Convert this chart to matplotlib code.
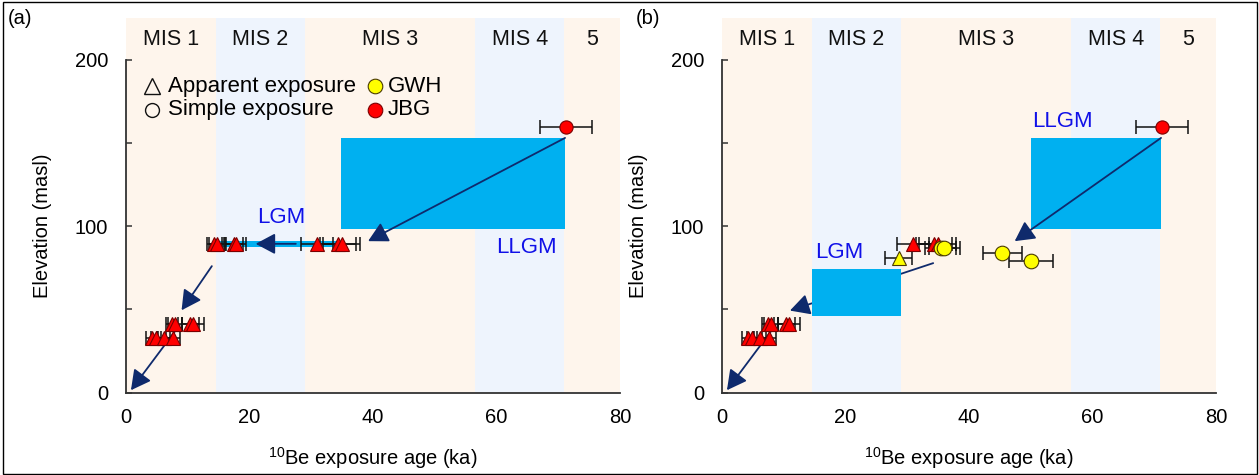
import matplotlib
matplotlib.use('Agg')
import matplotlib.pyplot as plt
from matplotlib.patches import Rectangle

plt.rcParams['font.family'] = ['Liberation Sans', 'DejaVu Sans']
plt.rcParams['mathtext.fontset'] = 'custom'
plt.rcParams['mathtext.rm'] = 'Liberation Sans'
plt.rcParams['mathtext.it'] = 'Liberation Sans:italic'
plt.rcParams['mathtext.bf'] = 'Liberation Sans:bold'

# ---------------- data ----------------
mis_labels = ['MIS 1', 'MIS 2', 'MIS 3', 'MIS 4', '5']
mis_bounds = [0, 14.5, 29, 56.5, 71, 80]

# JBG apparent exposure (red triangles), LGM group at ~89 m
jbg_lgm_age = [14.3, 14.7, 17.5, 17.8, 30.9, 34.3, 34.9]
jbg_lgm_err = [1.2, 1.2, 1.5, 1.6, 2.6, 2.9, 3.0]
jbg_lgm_elev = [89, 89, 89, 89, 89, 89, 89]

# JBG apparent exposure, low elevation groups
jbg_low_age = [4.2, 4.8, 6.2, 7.6, 7.4, 7.9, 10.4, 10.9]
jbg_low_err = [0.9, 0.8, 1.0, 1.1, 1.0, 1.1, 1.4, 1.8]
jbg_low_elev = [33, 33, 33, 33, 41, 41, 41, 41]

# JBG simple exposure (red circle)
jbg_simple_age = [71.2]
jbg_simple_err = [4.2]
jbg_simple_elev = [159.5]

# GWH apparent exposure (yellow triangle)
gwh_tri_age = [28.6]
gwh_tri_err = [2.2]
gwh_tri_elev = [81]

# GWH simple exposure (yellow circles)
gwh_circ_age = [35.4, 36.0, 45.4, 50.0]
gwh_circ_err = [2.5, 2.5, 3.2, 3.6]
gwh_circ_elev = [87, 87, 84, 79]

# Boxes (x0, x1, y0, y1)
llgm_box_a = (34.8, 71.1, 98, 153)
lgm_band_a = (14.3, 34.9, 87.5, 91.0)
llgm_box_b = (50.0, 71.1, 98, 153)
lgm_box_b = (14.5, 29.0, 46, 74)

# Arrows (start, end)
arrows_a = [((71.1, 153), (39.2, 91)),
            ((27.5, 89.4), (21.0, 89.4)),
            ((13.9, 76), (9.0, 49.5)),
            ((8.7, 40.7), (0.8, 1.5))]
arrows_b_over = [((71.1, 153), (47.4, 91)),
                 ((8.7, 40.7), (0.8, 1.5))]
arrows_b_under = [((34.2, 77.8), (11.0, 49.3))]

# ---------------- style ----------------
peach = '#FEF5EC'
lblue = '#EEF4FD'
cyan = '#00B0F0'
navy = '#0F2A6C'
spine_c = '#333333'

fig = plt.figure(figsize=(12.59, 4.75), dpi=100)
ax_a = fig.add_axes([126 / 1259, 82.3 / 475, 494 / 1259, 374.7 / 475])
ax_b = fig.add_axes([722 / 1259, 82.3 / 475, 494 / 1259, 374.7 / 475])


def base(ax):
    ax.set_xlim(0, 80)
    ax.set_ylim(0, 225)
    for i, lab in enumerate(mis_labels):
        x0, x1 = mis_bounds[i], mis_bounds[i + 1]
        ax.axvspan(x0, x1, color=peach if i % 2 == 0 else lblue, lw=0, zorder=0)
        ax.text((x0 + x1) / 2, 212, lab, ha='center', va='center', fontsize=15.5, color='#111111')
    ax.spines['top'].set_visible(False)
    ax.spines['right'].set_visible(False)
    ax.spines['left'].set_bounds(0, 200)
    for s in ('left', 'bottom'):
        ax.spines[s].set_color(spine_c)
        ax.spines[s].set_linewidth(1.3)
        ax.spines[s].set_zorder(6)
    ax.set_xticks([0, 20, 40, 60, 80])
    ax.set_yticks([0, 100, 200])
    ax.set_yticks([50, 150], minor=True)
    ax.tick_params(axis='x', length=0, pad=11, labelsize=14.5)
    ax.tick_params(axis='y', which='both', direction='in', length=4, width=1.1,
                   color=spine_c, pad=13, labelsize=14.5)
    ax.set_xlabel(r'$^{10}$Be exposure age (ka)', fontsize=14.5, labelpad=13)
    ax.set_ylabel('Elevation (masl)', fontsize=14.5)
    ax.yaxis.set_label_coords(-0.15, 100 / 225)


def box(ax, b, z):
    ax.add_patch(Rectangle((b[0], b[2]), b[1] - b[0], b[3] - b[2], facecolor=cyan,
                           edgecolor='none', zorder=z))


def arrow(ax, s, e, z):
    ax.annotate('', xy=e, xytext=s,
                arrowprops=dict(arrowstyle='-|>,head_length=0.6,head_width=0.32',
                                color=navy, lw=1.3, mutation_scale=20,
                                shrinkA=0, shrinkB=0),
                zorder=z)


def pts(ax, x, y, xe, marker, color, ms):
    ax.errorbar(x, y, xerr=xe, fmt='none', ecolor='#111111', elinewidth=1.1,
                capsize=5, capthick=1.1, zorder=4)
    ax.plot(x, y, linestyle='none', marker=marker, markersize=ms, markerfacecolor=color,
            markeredgecolor='#4a3a00' if color == '#FFFF00' else '#7a0000',
            markeredgewidth=0.8, zorder=5)


# ---------------- panel (a) ----------------
base(ax_a)
box(ax_a, llgm_box_a, 1)
box(ax_a, lgm_band_a, 1)
for s, e in arrows_a:
    arrow(ax_a, s, e, 3)
pts(ax_a, jbg_lgm_age, jbg_lgm_elev, jbg_lgm_err, '^', '#FF0000', 10.5)
pts(ax_a, jbg_low_age, jbg_low_elev, jbg_low_err, '^', '#FF0000', 10.5)
pts(ax_a, jbg_simple_age, jbg_simple_elev, jbg_simple_err, 'o', '#FF0000', 9.5)
ax_a.text(25.1, 105, 'LGM', color='#1010E8', fontsize=16, ha='center', va='center')
ax_a.text(69.8, 87, 'LLGM', color='#1010E8', fontsize=16, ha='right', va='center')

# legend
ax_a.plot([4.2], [184], marker='^', markersize=11, markerfacecolor='none',
          markeredgecolor='#111111', markeredgewidth=1.0, linestyle='none', zorder=5)
ax_a.plot([4.2], [170], marker='o', markersize=10, markerfacecolor='none',
          markeredgecolor='#111111', markeredgewidth=1.0, linestyle='none', zorder=5)
ax_a.plot([40.3], [184], marker='o', markersize=10.5, markerfacecolor='#FFFF00',
          markeredgecolor='#4a3a00', markeredgewidth=0.8, linestyle='none', zorder=5)
ax_a.plot([40.3], [170], marker='o', markersize=10.5, markerfacecolor='#FF0000',
          markeredgecolor='#7a0000', markeredgewidth=0.8, linestyle='none', zorder=5)
ax_a.text(6.8, 184, 'Apparent exposure', fontsize=16, va='center', ha='left')
ax_a.text(6.8, 170, 'Simple exposure', fontsize=16, va='center', ha='left')
ax_a.text(42.4, 184, 'GWH', fontsize=16, va='center', ha='left')
ax_a.text(42.4, 170, 'JBG', fontsize=16, va='center', ha='left')

# ---------------- panel (b) ----------------
base(ax_b)
for s, e in arrows_b_under:
    arrow(ax_b, s, e, 1)
box(ax_b, llgm_box_b, 1)
box(ax_b, lgm_box_b, 2)
for s, e in arrows_b_over:
    arrow(ax_b, s, e, 3)
pts(ax_b, jbg_lgm_age[4:], jbg_lgm_elev[4:], jbg_lgm_err[4:], '^', '#FF0000', 10.5)
pts(ax_b, jbg_low_age, jbg_low_elev, jbg_low_err, '^', '#FF0000', 10.5)
pts(ax_b, jbg_simple_age, jbg_simple_elev, jbg_simple_err, 'o', '#FF0000', 9.5)
pts(ax_b, gwh_tri_age, gwh_tri_elev, gwh_tri_err, '^', '#FFFF00', 10.5)
pts(ax_b, gwh_circ_age, gwh_circ_elev, gwh_circ_err, 'o', '#FFFF00', 10.5)
ax_b.text(19.0, 84.4, 'LGM', color='#1010E8', fontsize=16, ha='center', va='center')
ax_b.text(50.2, 163, 'LLGM', color='#1010E8', fontsize=16, ha='left', va='center')

# panel labels and frame
fig.text(8 / 1259, 1 - 19 / 475, '(a)', fontsize=14.5, ha='left', va='center')
fig.text(636 / 1259, 1 - 19 / 475, '(b)', fontsize=14.5, ha='left', va='center')
fig.patches.append(Rectangle((2.5 / 1259, 1.5 / 475), 1254 / 1259, 472 / 475,
                             transform=fig.transFigure, fill=False, ec='black', lw=1.0))

fig.savefig('out.png', dpi=100)
